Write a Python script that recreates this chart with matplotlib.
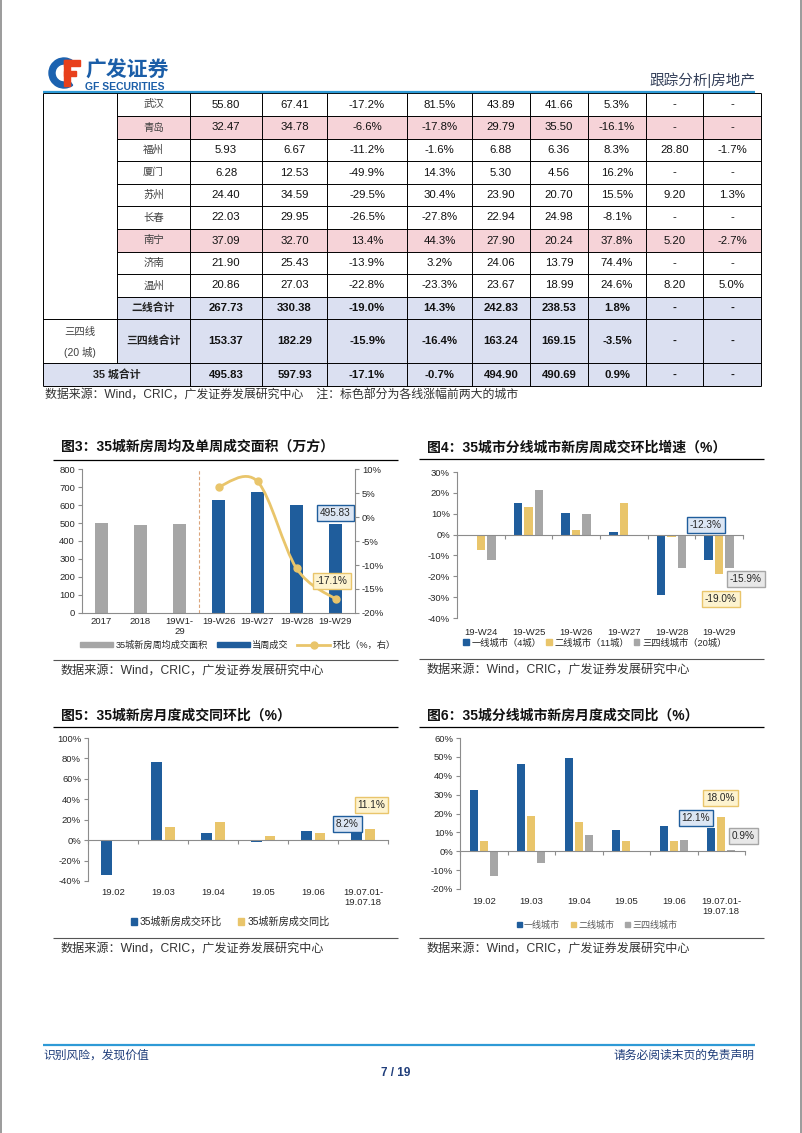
import numpy as np
import matplotlib
matplotlib.use('Agg')
import matplotlib.pyplot as plt
from matplotlib.patches import Rectangle, Wedge, PathPatch
from matplotlib.path import Path
from matplotlib.lines import Line2D

W, H = 802, 1133

plt.rcParams['font.family'] = ['Liberation Sans', 'Noto Sans CJK SC', 'DejaVu Sans']
plt.rcParams['axes.unicode_minus'] = False

BLUE = '#1f5d9c'
YELLOW = '#e9c56b'
GRAY = '#a6a6a6'
PINK = '#f6d3d8'
LAV = '#dbe0f1'
NAVY = '#1f3d7a'
AXC = '#8c8c8c'
TXT = '#262626'

# table (continued from the previous page)
cities = ['武汉', '青岛', '福州', '厦门', '苏州', '长春', '南宁', '济南', '温州']
city_vals = [
    ['55.80', '67.41', '-17.2%', '81.5%', '43.89', '41.66', '5.3%', '-', '-'],
    ['32.47', '34.78', '-6.6%', '-17.8%', '29.79', '35.50', '-16.1%', '-', '-'],
    ['5.93', '6.67', '-11.2%', '-1.6%', '6.88', '6.36', '8.3%', '28.80', '-1.7%'],
    ['6.28', '12.53', '-49.9%', '14.3%', '5.30', '4.56', '16.2%', '-', '-'],
    ['24.40', '34.59', '-29.5%', '30.4%', '23.90', '20.70', '15.5%', '9.20', '1.3%'],
    ['22.03', '29.95', '-26.5%', '-27.8%', '22.94', '24.98', '-8.1%', '-', '-'],
    ['37.09', '32.70', '13.4%', '44.3%', '27.90', '20.24', '37.8%', '5.20', '-2.7%'],
    ['21.90', '25.43', '-13.9%', '3.2%', '24.06', '13.79', '74.4%', '-', '-'],
    ['20.86', '27.03', '-22.8%', '-23.3%', '23.67', '18.99', '24.6%', '8.20', '5.0%'],
]
highlight = ['青岛', '南宁']
sum_labels = ['二线合计', '三四线合计', '35 城合计']
sum_vals = [
    ['267.73', '330.38', '-19.0%', '14.3%', '242.83', '238.53', '1.8%', '-', '-'],
    ['153.37', '182.29', '-15.9%', '-16.4%', '163.24', '169.15', '-3.5%', '-', '-'],
    ['495.83', '597.93', '-17.1%', '-0.7%', '494.90', '490.69', '0.9%', '-', '-'],
]

# fig 3
c3_cats = ['2017', '2018', '19W1-\n29', '19-W26', '19-W27', '19-W28', '19-W29']
c3_avg = [500, 489, 494]
c3_week = [627, 672, 597.93, 495.83]
c3_wow = [6.3, 7.4, -10.7, -17.1]

# fig 4
c4_cats = ['19-W24', '19-W25', '19-W26', '19-W27', '19-W28', '19-W29']
c4_t1 = [0.0, 15.3, 10.4, 1.2, -28.8, -12.3]
c4_t2 = [-7.2, 13.4, 2.1, 15.2, -1.2, -19.0]
c4_t34 = [-12.1, 21.2, 10.1, 0.0, -15.8, -15.9]

# fig 5
c5_cats = ['19.02', '19.03', '19.04', '19.05', '19.06', '19.07.01-\n19.07.18']
c5_mom = [-34.0, 76.3, 7.1, -2.2, 8.6, 8.2]
c5_yoy = [0.4, 12.8, 17.6, 3.6, 6.8, 11.1]

# fig 6
c6_t1 = [32.2, 46.1, 49.3, 11.1, 13.2, 12.1]
c6_t2 = [5.3, 18.5, 15.5, 5.4, 5.3, 18.0]
c6_t34 = [-13.2, -6.2, 8.8, -0.5, 5.8, 0.9]


fig = plt.figure(figsize=(W / 100, H / 100), dpi=100)
page = fig.add_axes([0, 0, 1, 1])
page.set_xlim(0, W)
page.set_ylim(H, 0)
page.axis('off')


def px_axes(x0, y0, x1, y1):
    return fig.add_axes([x0 / W, 1 - y1 / H, (x1 - x0) / W, (y1 - y0) / H])


def hline(x0, x1, y, color='k', lw=0.7):
    page.plot([x0, x1], [y, y], color=color, lw=lw, solid_capstyle='butt')


def vline(x, y0, y1, color='k', lw=0.7):
    page.plot([x, x], [y0, y1], color=color, lw=lw, solid_capstyle='butt')


# page frame, header, footer
vline(0.8, 0, H, color='#8a8a8a', lw=1.2)
vline(800.5, 0, H, color='#8a8a8a', lw=1.2)
page.add_patch(Wedge((64, 73), 15, 55, 305, width=6, color='#1b62b0'))
page.add_patch(Rectangle((64, 60), 16, 5.5, color='#e8401c'))
page.add_patch(Rectangle((64, 60), 6, 26, color='#e8401c'))
page.add_patch(Rectangle((64, 70.5), 12, 5, color='#e8401c'))
page.text(85, 71, '广发证券', fontsize=15, fontweight='bold', color='#1b5ea8', va='center')
page.text(85, 86.5, 'GF SECURITIES', fontsize=7.5, fontweight='bold', color='#1b5ea8', va='center')
page.text(755, 80, '跟踪分析|房地产', fontsize=10.5, color='#34405a', ha='right', va='center')
hline(43, 755, 1045, color='#2e9ad6', lw=1.6)
page.text(43, 1056, '识别风险，发现价值', fontsize=8.5, color=NAVY, va='center')
page.text(755, 1056, '请务必阅读末页的免责声明', fontsize=8.5, color=NAVY, va='center', ha='right')
page.text(396, 1073, '7 / 19', fontsize=8.5, color=NAVY, fontweight='bold', ha='center', va='center')

# table
cols = [43, 117, 190, 262, 327, 407, 472, 530, 588, 646, 703, 761]
rows = [93, 116, 139, 161, 184, 206, 229, 252, 274, 297, 319, 363, 386]
for i, c in enumerate(cities):
    if c in highlight:
        page.add_patch(Rectangle((117, rows[i]), 761 - 117, rows[i + 1] - rows[i], color=PINK, lw=0))
page.add_patch(Rectangle((117, rows[9]), 761 - 117, rows[11] - rows[9], color=LAV, lw=0))
page.add_patch(Rectangle((43, rows[11]), 761 - 43, rows[12] - rows[11], color=LAV, lw=0))

for k in range(2, 11):
    vline(cols[k], rows[0], rows[12])
vline(cols[0], rows[0], rows[12])
vline(cols[11], rows[0], rows[12])
vline(cols[1], rows[0], rows[11])
for j in range(1, 10):
    hline(117, 761, rows[j])
for j in [10, 11, 12]:
    hline(43, 761, rows[j])
hline(43, 761, rows[0])
hline(43, 755, 92, color='#2e9ad6', lw=1.6)

centers = [(cols[k] + cols[k + 1]) / 2 for k in range(len(cols) - 1)]
for i, c in enumerate(cities):
    ym = (rows[i] + rows[i + 1]) / 2
    page.text(centers[1], ym, c, fontsize=7.5, color='#404040', ha='center', va='center')
    for k, v in enumerate(city_vals[i]):
        page.text(centers[k + 2], ym, v, fontsize=8.2, color='#111111', ha='center', va='center')
for i, lab in enumerate(sum_labels):
    ym = (rows[9 + i] + rows[10 + i]) / 2
    xm = centers[1] if i < 2 else (cols[0] + cols[2]) / 2
    page.text(xm, ym, lab, fontsize=7.8, fontweight='bold', color='#222222', ha='center', va='center')
    for k, v in enumerate(sum_vals[i]):
        page.text(centers[k + 2], ym, v, fontsize=8.2, fontweight='bold', color='#111111',
                  ha='center', va='center')
page.text(centers[0], 332, '三四线', fontsize=7.5, color='#404040', ha='center', va='center')
page.text(centers[0], 352, '(20 城)', fontsize=7.5, color='#404040', ha='center', va='center')
page.text(45, 396, '数据来源：Wind，CRIC，广发证券发展研究中心    注：标色部分为各线涨幅前两大的城市',
          fontsize=8.6, color='#333333', va='center')


def frame(x0, x1, ytitle, yrule, ybottom, title):
    page.text(x0 + 8, ytitle, title, fontsize=10, fontweight='bold', color='#111111', va='center')
    hline(x0, x1, yrule, lw=0.9)
    hline(x0, x1, ybottom, color='#555555', lw=0.8)
    page.text(x0 + 8, ybottom + 11, '数据来源：Wind，CRIC，广发证券发展研究中心', fontsize=8.7,
              color='#333333', va='center')


def style(ax, cats, ylim, yticks, fmt, pad_px):
    n = len(cats)
    ax.set_xlim(-0.5, n - 0.5)
    ax.set_ylim(*ylim)
    ax.set_yticks(yticks)
    ax.set_yticklabels([fmt.format(v) for v in yticks])
    ax.patch.set_alpha(0)
    for s in ['top', 'right']:
        ax.spines[s].set_visible(False)
    ax.spines['left'].set_color(AXC)
    ax.spines['bottom'].set_color(AXC)
    ax.spines['bottom'].set_position(('data', 0))
    ax.set_xticks(np.arange(-0.5, n, 1.0))
    ax.tick_params(axis='x', length=3, color=AXC, labelbottom=False)
    ax.tick_params(axis='y', length=3, color=AXC, labelsize=6.8, labelcolor=TXT, pad=2)
    hpx = ax.get_position().height * H
    for i, c in enumerate(cats):
        ax.text(i, -pad_px / hpx, c, transform=ax.get_xaxis_transform(), ha='center', va='top',
                fontsize=6.8, color=TXT, linespacing=1.1)


def tag(ax, x, y, s, fc, ec):
    ax.text(x, y, s, ha='center', va='center', fontsize=7.2, color=TXT, zorder=6,
            bbox=dict(boxstyle='square,pad=0.3', fc=fc, ec=ec, lw=1.0))


def legend(handles, labels, cx, cy, **kw):
    fig.legend(handles, labels, loc='center', bbox_to_anchor=(cx / W, 1 - cy / H), frameon=False,
               ncol=len(labels), **kw)


BLUE_BOX = ('#dce6f4', BLUE)
YEL_BOX = ('#fdf3cf', YELLOW)
GRAY_BOX = ('#e8e8e8', GRAY)

# ---- fig 3 ----
frame(53, 398, 447, 460, 660, '图3：35城新房周均及单周成交面积（万方）')
ax3 = px_axes(82, 469, 355, 613)
ax3.bar(np.arange(3), c3_avg, width=0.32, color=GRAY)
ax3.bar(np.arange(3, 7), c3_week, width=0.32, color=BLUE)
style(ax3, c3_cats, (0, 800), np.arange(0, 801, 100), '{:.0f}', 4)
ax3.tick_params(axis='x', length=0)
ax3.axvline(2.5, color='#dba57c', lw=0.8, ls=(0, (3, 2)))
ax3r = ax3.twinx()
ax3r.set_ylim(-20, 10)
ax3r.set_yticks(np.arange(-20, 11, 5))
ax3r.set_yticklabels(['{:.0f}%'.format(v) for v in np.arange(-20, 11, 5)])
for s in ['top', 'left', 'bottom']:
    ax3r.spines[s].set_visible(False)
ax3r.spines['right'].set_color(AXC)
ax3r.tick_params(axis='y', length=3, color=AXC, labelsize=6.8, labelcolor=TXT, pad=2)

pts = np.column_stack([np.arange(3, 7), c3_wow]).astype(float)
verts, codes = [pts[0]], [Path.MOVETO]
for i in range(len(pts) - 1):
    p0, p1 = pts[max(i - 1, 0)], pts[i]
    p2, p3 = pts[i + 1], pts[min(i + 2, len(pts) - 1)]
    verts += [p1 + (p2 - p0) / 6, p2 - (p3 - p1) / 6, p2]
    codes += [Path.CURVE4] * 3
ax3r.add_patch(PathPatch(Path(verts, codes), fill=False, ec=YELLOW, lw=2))
ax3r.plot(np.arange(3, 7), c3_wow, 'o', color=YELLOW, ms=5)
tag(ax3, 6, 553, '495.83', *BLUE_BOX)
tag(ax3r, 5.9, -13.3, '-17.1%', *YEL_BOX)
legend([Rectangle((0, 0), 1, 1, color=GRAY), Rectangle((0, 0), 1, 1, color=BLUE),
        Line2D([], [], color=YELLOW, lw=2, marker='o', ms=5)],
       ['35城新房周均成交面积', '当周成交', '环比（%，右）'], 238, 645,
       fontsize=6.6, handlelength=3.6, handleheight=0.55, handletextpad=0.3, columnspacing=0.9,
       labelcolor=TXT)

# ---- fig 4 ----
frame(419, 764, 448, 459, 659, '图4：35城市分线城市新房周成交环比增速（%）')
ax4 = px_axes(457, 472, 743, 618)
x = np.arange(len(c4_cats))
ax4.bar(x - 0.22, c4_t1, width=0.18, color=BLUE)
ax4.bar(x, c4_t2, width=0.18, color=YELLOW)
ax4.bar(x + 0.22, c4_t34, width=0.18, color=GRAY)
style(ax4, c4_cats, (-40, 30), np.arange(-40, 31, 10), '{:.0f}%', 10)
tag(ax4, 4.72, 4.6, '-12.3%', *BLUE_BOX)
tag(ax4, 5.56, -21.3, '-15.9%', *GRAY_BOX)
tag(ax4, 5.03, -30.9, '-19.0%', *YEL_BOX)
legend([Rectangle((0, 0), 1, 1, color=c) for c in (BLUE, YELLOW, GRAY)],
       ['一线城市（4城）', '二线城市（11城）', '三四线城市（20城）'], 595, 643,
       fontsize=6.7, handlelength=0.6, handleheight=0.6, handletextpad=0.3, columnspacing=0.5,
       labelcolor=TXT)

# ---- fig 5 ----
frame(53, 398, 716, 727, 938, '图5：35城新房月度成交同环比（%）')
ax5 = px_axes(88, 738, 388, 881)
x = np.arange(len(c5_cats))
ax5.bar(x - 0.13, c5_mom, width=0.21, color=BLUE)
ax5.bar(x + 0.14, c5_yoy, width=0.21, color=YELLOW)
style(ax5, c5_cats, (-40, 100), np.arange(-40, 101, 20), '{:.0f}%', 7)
tag(ax5, 4.69, 16.2, '8.2%', *BLUE_BOX)
tag(ax5, 5.17, 34.3, '11.1%', *YEL_BOX)
legend([Rectangle((0, 0), 1, 1, color=c) for c in (BLUE, YELLOW)],
       ['35城新房成交环比', '35城新房成交同比'], 230, 922,
       fontsize=7.3, handlelength=0.6, handleheight=0.6, handletextpad=0.3, columnspacing=1.6,
       labelcolor=TXT)

# ---- fig 6 ----
frame(419, 764, 716, 727, 938, '图6：35城分线城市新房月度成交同比（%）')
ax6 = px_axes(460, 738, 745, 889)
ax6.bar(x - 0.21, c6_t1, width=0.16, color=BLUE)
ax6.bar(x, c6_t2, width=0.16, color=YELLOW)
ax6.bar(x + 0.21, c6_t34, width=0.16, color=GRAY)
style(ax6, c5_cats, (-20, 60), np.arange(-20, 61, 10), '{:.0f}%', 8)
tag(ax6, 4.47, 17.4, '12.1%', *BLUE_BOX)
tag(ax6, 4.98, 28.2, '18.0%', *YEL_BOX)
tag(ax6, 5.46, 8.2, '0.9%', *GRAY_BOX)
legend([Rectangle((0, 0), 1, 1, color=c) for c in (BLUE, YELLOW, GRAY)],
       ['一线城市', '二线城市', '三四线城市'], 597, 925,
       fontsize=6.5, handlelength=0.6, handleheight=0.6, handletextpad=0.2, columnspacing=1.2,
       labelcolor='#595959')

fig.savefig('out.png', dpi=100, facecolor='w')
plt.close('all')
